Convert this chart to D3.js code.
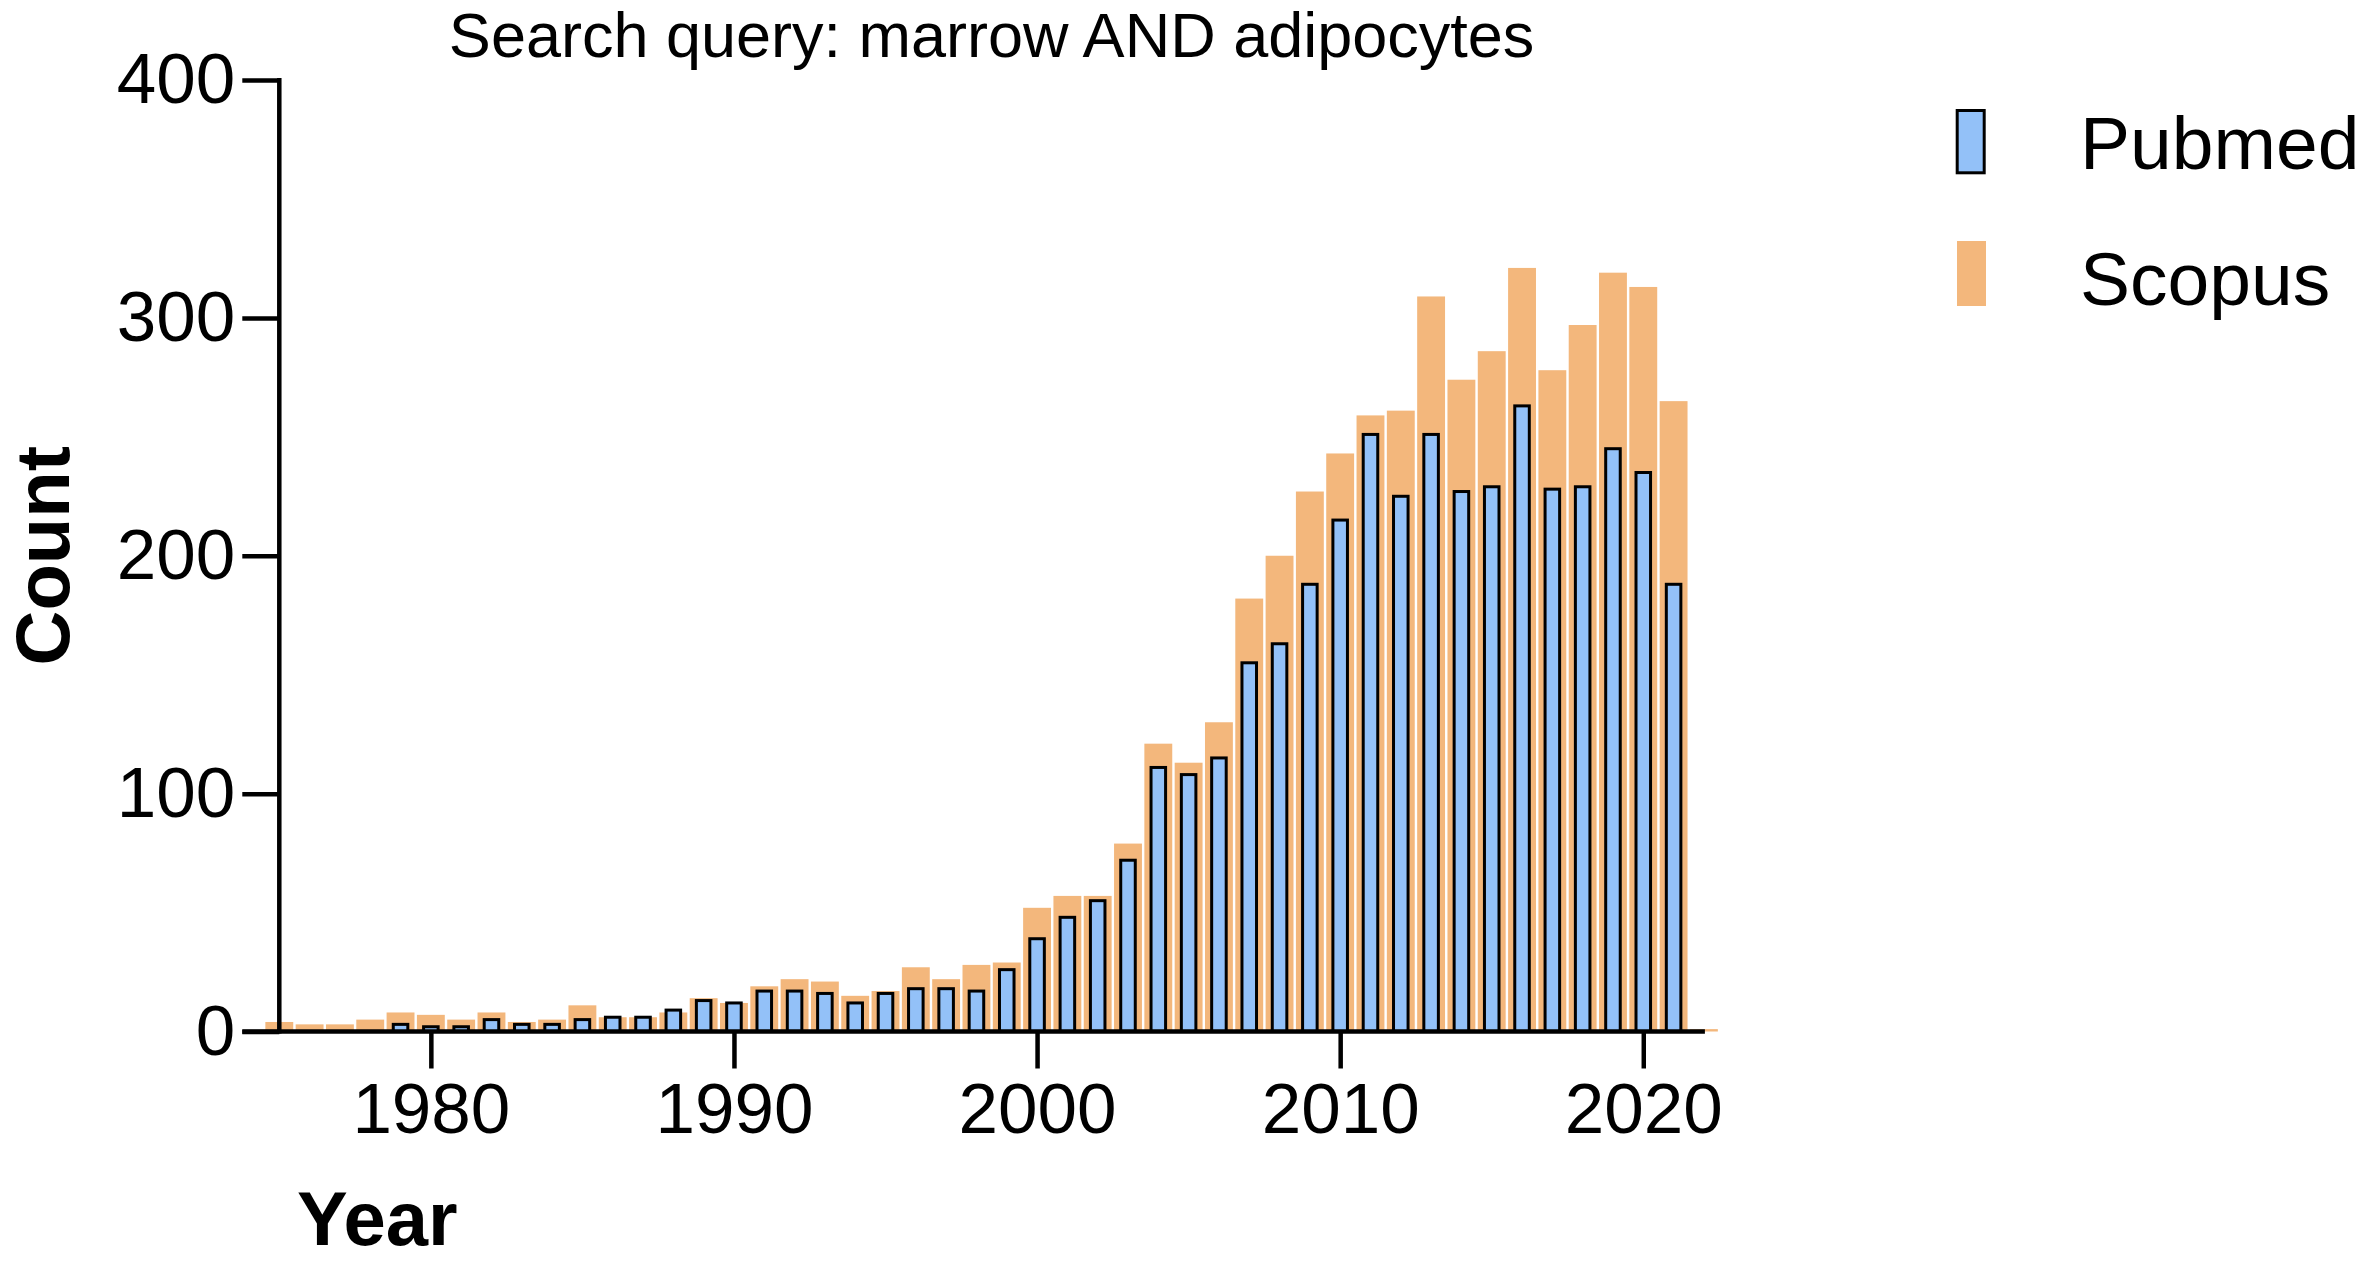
<!DOCTYPE html>
<html>
<head>
<meta charset="utf-8">
<script src="https://cdn.jsdelivr.net/npm/d3@7/dist/d3.min.js"></script>
<style>
  html, body { margin: 0; padding: 0; background: #ffffff; }
  svg { display: block; }
  text { font-family: "Liberation Sans", Arial, Helvetica, sans-serif; fill: #000; }
</style>
</head>
<body>
<script>
// ---- data ----
const years = d3.range(1975, 2023);
const pubmed = [null, null, null, null, 3, 2, 2, 5, 3, 3,
                5, 6, 6, 9, 13, 12, 17, 17, 16, 12,
                16, 18, 18, 17, 26, 39, 48, 55, 72, 111,
                108, 115, 155, 163, 188, 215, 251, 225, 251, 227,
                229, 263, 228, 229, 245, 235, 188, null];
const scopus = [4, 3, 3, 5, 8, 7, 5, 8, 4, 5,
                11, 6, 6, 8, 14, 12, 19, 22, 21, 15,
                17, 27, 22, 28, 29, 52, 57, 57, 79, 121,
                113, 130, 182, 200, 227, 243, 259, 261, 309, 274,
                286, 321, 278, 297, 319, 313, 265, 1];
const xTicks = [1980, 1990, 2000, 2010, 2020];
const yTicks = [0, 100, 200, 300, 400];
const seriesNames = ["Pubmed", "Scopus"];
const titleText = "Search query: marrow AND adipocytes";

// ---- layout ----
const W = 2362, H = 1261;
const colBlue = "#93C1F8", colOrange = "#F3B77C";
const x = d3.scaleLinear().domain([1975, 2022]).range([279.3, 1703.9]);
const y = d3.scaleLinear().domain([0, 400]).range([1031.5, 80]);
const pitch = x(1976) - x(1975);
const tickLen = 37;
const axisW = 4.5;

const svg = d3.select("body").append("svg")
  .attr("width", W).attr("height", H)
  .attr("viewBox", `0 0 ${W} ${H}`);
svg.append("rect").attr("width", W).attr("height", H).attr("fill", "#fff");

// Scopus bars (wide, behind)
const sw = pitch * 0.92;
svg.append("g").selectAll("rect")
  .data(years.map((yr, i) => ({yr, v: scopus[i]})).filter(d => d.v != null))
  .join("rect")
  .attr("x", d => x(d.yr) - sw / 2)
  .attr("width", sw)
  .attr("y", d => y(d.v))
  .attr("height", d => y(0) - y(d.v))
  .attr("fill", colOrange);

// Pubmed bars (narrow, front, outlined)
const pw = pitch * 0.48;
svg.append("g").selectAll("rect")
  .data(years.map((yr, i) => ({yr, v: pubmed[i]})).filter(d => d.v != null))
  .join("rect")
  .attr("x", d => x(d.yr) - pw / 2)
  .attr("width", pw)
  .attr("y", d => y(d.v))
  .attr("height", d => y(0) - y(d.v))
  .attr("fill", colBlue)
  .attr("stroke", "#000")
  .attr("stroke-width", 3);

// Axes
const yAxis = d3.axisLeft(y).tickValues(yTicks).tickSize(tickLen).tickPadding(7).tickSizeOuter(0);
const gy = svg.append("g").attr("transform", `translate(${x(1975)},0)`).call(yAxis);
gy.select(".domain").remove();
gy.selectAll(".tick line").attr("stroke", "#000").attr("stroke-width", axisW);
gy.selectAll(".tick text").attr("font-size", 71).attr("font-family", "Liberation Sans, Arial, sans-serif");

const xAxis = d3.axisBottom(x).tickValues(xTicks).tickFormat(d3.format("d")).tickSize(tickLen).tickPadding(14).tickSizeOuter(0);
const gx = svg.append("g").attr("transform", `translate(0,${y(0)})`).call(xAxis);
gx.select(".domain").remove();
gx.selectAll(".tick line").attr("stroke", "#000").attr("stroke-width", axisW);
gx.selectAll(".tick text").attr("font-size", 71).attr("font-family", "Liberation Sans, Arial, sans-serif");

// axis lines
svg.append("line")
  .attr("x1", x(1975) - tickLen).attr("x2", x(2022) + 1)
  .attr("y1", y(0)).attr("y2", y(0))
  .attr("stroke", "#000").attr("stroke-width", axisW);
svg.append("line")
  .attr("x1", x(1975)).attr("x2", x(1975))
  .attr("y1", y(400) - 2).attr("y2", y(0) + 2)
  .attr("stroke", "#000").attr("stroke-width", axisW);

// Title
svg.append("text")
  .attr("x", (x(1975) + x(2022)) / 2).attr("y", 57)
  .attr("text-anchor", "middle")
  .attr("font-size", 63)
  .text(titleText);

// Axis titles
svg.append("text")
  .attr("transform", `translate(69,${(y(0) + y(400)) / 2}) rotate(-90)`)
  .attr("text-anchor", "middle")
  .attr("font-size", 76).attr("font-weight", "bold")
  .text("Count");
svg.append("text")
  .attr("x", 297).attr("y", 1245)
  .attr("font-size", 76).attr("font-weight", "bold")
  .text("Year");

// Legend
const lg = svg.append("g");
lg.append("rect").attr("x", 1957.2).attr("y", 110.5).attr("width", 27).attr("height", 62.3)
  .attr("fill", colBlue).attr("stroke", "#000").attr("stroke-width", 3);
lg.append("rect").attr("x", 1957).attr("y", 241).attr("width", 29).attr("height", 65)
  .attr("fill", colOrange);
lg.append("text").attr("x", 2080).attr("y", 169).attr("font-size", 75).text(seriesNames[0]);
lg.append("text").attr("x", 2080).attr("y", 305).attr("font-size", 75).text(seriesNames[1]);
</script>
</body>
</html>
